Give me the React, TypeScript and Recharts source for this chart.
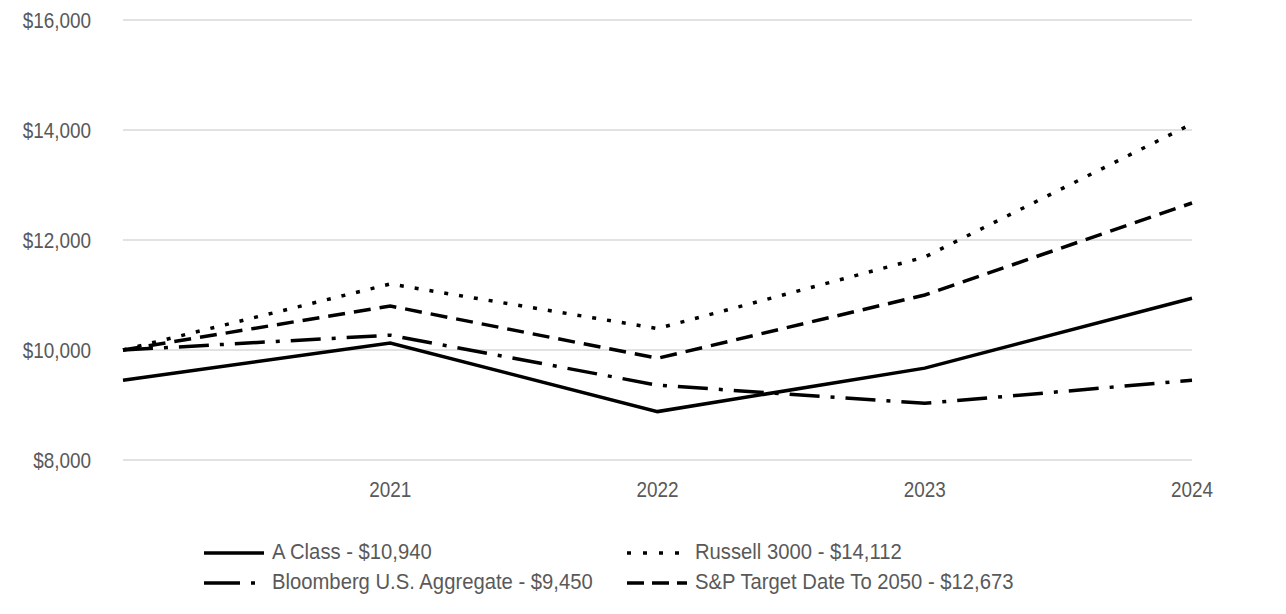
import React from "react";
import { LineChart, Line, XAxis, YAxis, CartesianGrid, Legend } from "recharts";

const categories = ["", "2021", "2022", "2023", "2024"];
const aClass = [9450, 10127, 8880, 9670, 10940];
const russell = [10000, 11200, 10390, 11690, 14112];
const bloomberg = [10000, 10270, 9360, 9030, 9450];
const spTarget = [10000, 10800, 9850, 11000, 12673];
const yTicks = [8000, 10000, 12000, 14000, 16000];

const series = [
  { key: "aClass", name: "A Class - $10,940", dash: undefined as string | undefined, legendDash: undefined as string | undefined },
  { key: "russell", name: "Russell 3000 - $14,112", dash: "4 11", legendDash: "4 12" },
  { key: "bloomberg", name: "Bloomberg U.S. Aggregate - $9,450", dash: "30 11 4 11", legendDash: "36 11 4 20" },
  { key: "spTarget", name: "S&P Target Date To 2050 - $12,673", dash: "17 9", legendDash: "17 8" },
];

const data = categories.map((c, i) => ({
  year: c,
  aClass: aClass[i],
  russell: russell[i],
  bloomberg: bloomberg[i],
  spTarget: spTarget[i],
}));

const FONT = "'Liberation Sans', Arial, sans-serif";
const AXIS_SQUEEZE = 0.86;
const LEGEND_SQUEEZE = 0.92;
const TEXT_COLOR = "#595959";

const fmt = (v: number) => "$" + v.toLocaleString("en-US");

const XTick = (props: any) => {
  const { x, y, payload } = props;
  return (
    <text
      x={x}
      y={y}
      dy={29}
      textAnchor="middle"
      fill={TEXT_COLOR}
      fontSize={22}
      fontFamily={FONT}
      transform={`translate(${x},0) scale(${AXIS_SQUEEZE},1) translate(${-x},0)`}
    >
      {payload.value}
    </text>
  );
};

const YTick = (props: any) => {
  const { x, y, payload } = props;
  return (
    <text
      x={x}
      y={y}
      dy={8}
      textAnchor="end"
      fill={TEXT_COLOR}
      fontSize={22}
      fontFamily={FONT}
      transform={`translate(${x},0) scale(${AXIS_SQUEEZE},1) translate(${-x},0)`}
    >
      {fmt(payload.value)}
    </text>
  );
};

const LegendContent = () => {
  const cols = [204, 627];
  return (
    <div style={{ position: "relative", height: 100, fontFamily: FONT, fontSize: 22, color: TEXT_COLOR }}>
      {series.map((s, i) => {
        const col = i % 2;
        const row = Math.floor(i / 2);
        return (
          <div
            key={s.key}
            style={{ position: "absolute", left: cols[col] - 18, top: 41 + row * 30, height: 24, width: 420 }}
          >
            <svg width={62} height={10} style={{ position: "absolute", left: 0, top: 7 }}>
              <line x1={0} y1={5} x2={60} y2={5} stroke="#000" strokeWidth={3.5} strokeDasharray={s.legendDash} />
            </svg>
            <span
              style={{
                position: "absolute",
                left: 68,
                top: -2,
                whiteSpace: "nowrap",
                transform: `scaleX(${LEGEND_SQUEEZE})`,
                transformOrigin: "left center",
              }}
            >
              {s.name}
            </span>
          </div>
        );
      })}
    </div>
  );
};

export default function App() {
  return (
    <div style={{ width: 1270, height: 598, fontFamily: FONT }}>
      <LineChart width={1270} height={598} data={data} margin={{ top: 12, right: 86, bottom: 6, left: 10 }}>
        <CartesianGrid horizontal vertical={false} stroke="#d9d9d9" strokeWidth={1.5} />
        <XAxis
          dataKey="year"
          axisLine={false}
          tickLine={false}
          height={40}
          tick={<XTick />}
          interval={0}
        />
        <YAxis
          domain={[8000, 16000]}
          ticks={yTicks}
          width={105}
          axisLine={false}
          tickLine={false}
          tickMargin={26}
          tick={<YTick />}
          interval={0}
        />
        <Legend verticalAlign="bottom" height={100} content={<LegendContent />} />
        {series.map((s) => (
          <Line
            key={s.key}
            dataKey={s.key}
            name={s.name}
            type="linear"
            stroke="#000"
            strokeWidth={3.5}
            strokeDasharray={s.dash}
            dot={false}
            activeDot={false}
            isAnimationActive={false}
          />
        ))}
      </LineChart>
    </div>
  );
}
